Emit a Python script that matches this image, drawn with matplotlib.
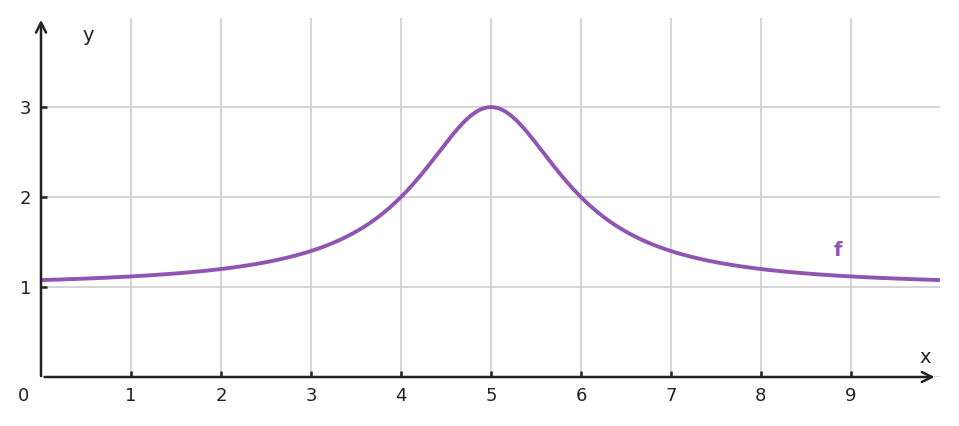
import numpy as np
import matplotlib as mpl
mpl.use('Agg')
import matplotlib.pyplot as plt

# function shown: peak of height 2 at x=5 on top of a baseline of 1
baseline = 1.0
peak_height = 2.0
peak_x = 5.0
half_width = 1.0
x_ticks = [1, 2, 3, 4, 5, 6, 7, 8, 9]
y_ticks = [1, 2, 3]
x_range = (0, 9.99)
y_range = (0, 3.99)

purple = '#9055b2'
axis_col = '#222222'
grid_col = '#d6d6d6'

fig = plt.figure(figsize=(9.59, 4.26), dpi=100)
ax = fig.add_axes([41 / 959, 49 / 426, 899 / 959, 359 / 426])
ax.set_xlim(*x_range)
ax.set_ylim(*y_range)

xs = np.linspace(x_range[0], x_range[1], 600)
ys = baseline + peak_height / (1 + ((xs - peak_x) / half_width) ** 2)

for xt in x_ticks:
    ax.axvline(xt, color=grid_col, lw=1.5, zorder=0)
for yt in [0] + y_ticks:
    ax.axhline(yt, color=grid_col, lw=1.5, zorder=0)

ax.plot(xs, ys, color=purple, lw=2.8, zorder=3, solid_capstyle='butt')

for s in ax.spines.values():
    s.set_visible(False)

ax.annotate('', xy=(9.93, 0), xytext=(0.04, 0),
            arrowprops=dict(arrowstyle='->', color=axis_col, lw=1.8,
                            mutation_scale=18, shrinkA=0, shrinkB=0),
            annotation_clip=False, zorder=4)
ax.annotate('', xy=(0, 3.97), xytext=(0, 0.01),
            arrowprops=dict(arrowstyle='->', color=axis_col, lw=1.8,
                            mutation_scale=18, shrinkA=0, shrinkB=0),
            annotation_clip=False, zorder=4)

ax.set_xticks(x_ticks)
ax.set_xticklabels([str(t) for t in x_ticks])
ax.set_yticks(y_ticks)
ax.set_yticklabels([str(t) for t in y_ticks])
ax.tick_params(direction='in', length=4, width=1.8, color=axis_col,
               labelsize=13, labelcolor=axis_col)
ax.tick_params(axis='x', pad=7)
ax.tick_params(axis='y', pad=7)

ax.text(-0.19, -0.21, '0', fontsize=13, color=axis_col, ha='center', va='center')
ax.text(9.83, 0.22, 'x', fontsize=14, color=axis_col, ha='center', va='center')
ax.text(0.52, 3.79, 'y', fontsize=14, color=axis_col, ha='center', va='center')
ax.text(8.86, 1.41, 'f', fontsize=14, color=purple, fontweight='bold',
        ha='center', va='center')

fig.savefig('out.png', dpi=100)
